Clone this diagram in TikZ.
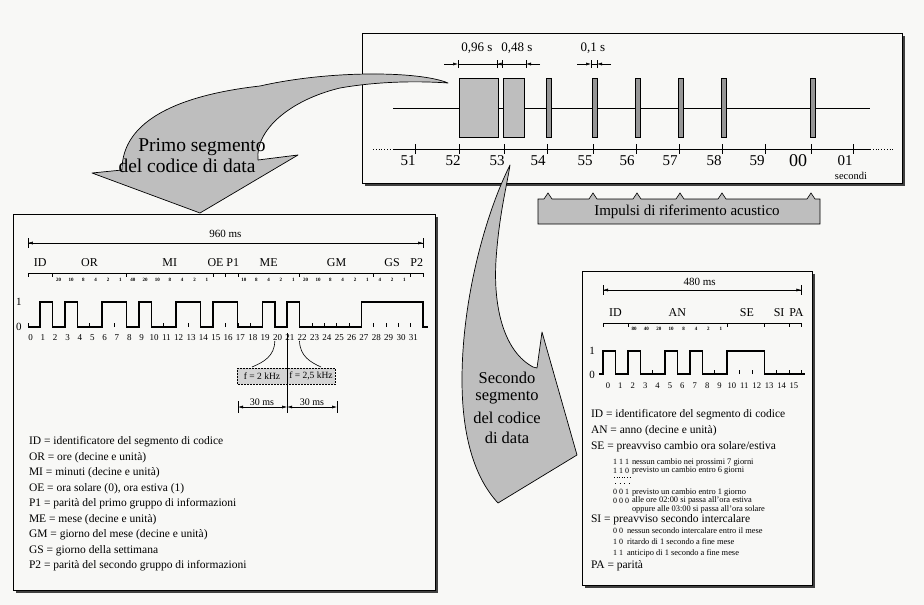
\documentclass[tikz,border=0pt]{standalone}
\usepackage{fontspec}
\setmainfont{Liberation Serif}
\usetikzlibrary{arrows.meta}
\definecolor{bgc}{RGB}{248,248,246}
\definecolor{hatch}{RGB}{190,190,190}
\definecolor{hatchdk}{RGB}{150,150,150}
\definecolor{fboxc}{RGB}{212,212,212}
\newcommand{\myfs}[1]{\fontsize{#1}{#1}\selectfont}
\begin{document}
\begin{tikzpicture}[x=1pt,y=-1pt,
  txt/.style={inner sep=0pt,outer sep=0pt},
  ax/.style={txt,font=\myfs{15}},
  fld/.style={txt,font=\myfs{12}},
  bitl/.style={txt,font=\myfs{9}},
  wt/.style={txt,font=\myfs{5}\bfseries},
  lvl/.style={txt,font=\myfs{11}},
  leg/.style={txt,anchor=west,font=\myfs{11.5}},
  subc/.style={txt,anchor=west,font=\myfs{8}},
  subt/.style={txt,anchor=west,font=\myfs{8.4}},
  tip/.style={-{Latex[length=5pt,width=3pt]},line width=0.5pt},
  pulse/.style={line width=1.4pt,line join=miter},
  panel/.style={draw,line width=0.8pt,fill=bgc},
  pshadow/.style={fill=black!75},
  bigarrow/.style={fill=hatch,draw,line width=0.7pt,line join=round}]
\fill[bgc] (0,0) rectangle (924,605);
\useasboundingbox (0,0) rectangle (924,605);

% ================= top panel =================
\fill[pshadow] (364.5,35.5) rectangle (904.5,185.5);
\draw[panel] (362,33) rectangle (902,183);
\draw[line width=0.6pt] (393,108) -- (870,108);
\draw[fill=hatch,line width=0.6pt] (459,78) rectangle (498,137);
\draw[fill=hatch,line width=0.6pt] (503,78) rectangle (524,137);
\foreach \x in {547,593,636,679,722,811}
  \draw[fill=hatchdk,line width=0.6pt] (\x-1,78) rectangle (\x+4.5,137);
\draw[line width=0.7pt] (393,149) -- (870,149);
\draw[dotted,line width=0.8pt] (373,149) -- (393,149);
\draw[dotted,line width=0.8pt] (870,149) -- (893,149);
\foreach \x/\l/\lx in {415/51/408,459/52/453,504/53/497,547/54/538,593/55/585,636/56/627,679/57/670,722/58/714,765/59/757,853/01/845}{
  \draw[line width=0.7pt] (\x,144) -- (\x,154);
  \node[ax] (sec\l) at (\lx,161) {\l};
}
\draw[line width=0.7pt] (811,144) -- (811,154);
\node[txt,font=\myfs{18}] (sec00) at (798,161) {00};
\node[txt,font=\myfs{10.5}] (secondi) at (851,176) {secondi};
% time dimensions
\node[txt,font=\myfs{13}] (d096) at (477,48) {0,96 s};
\node[txt,font=\myfs{13}] (d048) at (517,48) {0,48 s};
\node[txt,font=\myfs{13}] (d01) at (593,48) {0,1 s};
\draw[line width=0.5pt] (458,64) -- (526,64);
\draw[tip] (444,64) -- (458,64);
\draw[tip] (540,64) -- (526,64);
\draw[-{Latex[length=4pt,width=3pt]},line width=0.5pt] (502,64) -- (497.5,64);
\foreach \x in {458,497,502,526} \draw[line width=0.6pt] (\x,60) -- (\x,68);
\draw[line width=0.5pt] (591,64) -- (597,64);
\draw[tip] (577,64) -- (591,64);
\draw[tip] (611,64) -- (597,64);
\foreach \x in {591,597} \draw[line width=0.6pt] (\x,60) -- (\x,68);

% Impulsi box
\draw[fill=hatch,line width=0.6pt] (538,224) -- (538,199)
  -- (544,199) -- (548,193) -- (552,199)
  -- (589,199) -- (593,193) -- (597,199)
  -- (633,199) -- (637,193) -- (641,199)
  -- (676,199) -- (680,193) -- (684,199)
  -- (718,199) -- (722,193) -- (726,199)
  -- (807,199) -- (811,193) -- (815,199)
  -- (820,199) -- (820,224) -- cycle;
\node[txt,font=\myfs{15}] (impulsi) at (687,212) {Impulsi di riferimento acustico};

% ================= left panel =================
\fill[pshadow] (15.5,216.5) rectangle (437.5,592.5);
\draw[panel] (13,214) rectangle (435,590);
\begin{scope}[shift={(27.8pt,0pt)},x=12.35pt]
  \draw[line width=0.5pt] (0,243) -- (32,243);
  \draw[tip] (3,243) -- (0,243);
  \draw[tip] (29,243) -- (32,243);
  \draw[line width=0.6pt] (0,238) -- (0,248);
  \draw[line width=0.6pt] (32,238) -- (32,248);
  \node[txt,font=\myfs{11}] (ms960) at (16,234) {960 ms};
  \foreach \p/\l in {1/ID,5/OR,11.5/MI,15.2/OE,16.6/P1,19.5/ME,25/GM,29.5/GS,31.5/P2}
    \node[fld] (lf\l) at (\p,263) {\l};
  \draw[line width=0.5pt] (0,273) -- (32,273);
  \foreach \b in {0,2,8,15,16,17,22,28,31,32} \draw[line width=0.5pt] (\b,273) -- (\b,277);
  \foreach \b/\w in {2/20,3/10,4/8,5/4,6/2,7/1,8/40,9/20,10/10,11/8,12/4,13/2,14/1,17/10,18/8,19/4,20/2,21/1,22/20,23/10,24/8,25/4,26/2,27/1,28/4,29/2,30/1}
    \node[wt] (lw\b) at (\b+0.5,279.5) {\w};
  \foreach \i in {0,...,32} \draw[line width=0.5pt] (\i,327) -- (\i,322.5);
  \draw[pulse] (0,327) -- (1,327) -- (1,302) -- (2,302) -- (2,327) -- (3,327) -- (3,302) -- (4,302) -- (4,327)
    -- (6,327) -- (6,302) -- (8,302) -- (8,327) -- (9,327) -- (9,302) -- (10,302) -- (10,327)
    -- (12,327) -- (12,302) -- (14,302) -- (14,327) -- (15,327) -- (15,302) -- (17,302) -- (17,327)
    -- (19,327) -- (19,302) -- (20,302) -- (20,327) -- (21,327) -- (21,302) -- (22,302) -- (22,327)
    -- (27,327) -- (27,302) -- (32,302) -- (32,327) -- (32.4,327);
  \foreach \i in {0,...,31} \node[bitl] (lb\i) at (\i+0.22,338) {\i};
\end{scope}
\node[lvl] (l1) at (19,302) {1};
\node[lvl] (l0) at (19,327) {0};
% frequency boxes
\draw[fill=fboxc,line width=0.5pt,densely dotted] (237,368) rectangle (335,384);
\node[txt,font=\myfs{9.5}] (f2) at (262,376) {f = 2 kHz};
\node[txt,font=\myfs{9.5}] (f25) at (311,376) {f = 2,5 kHz};
\draw[line width=0.6pt] (274.8,341) .. controls (274.5,356) and (264,362) .. (252,367);
\draw[line width=0.6pt] (299.5,341) .. controls (300,356) and (310,362) .. (321,367);
\draw[line width=0.6pt] (287.15,333) -- (287.15,413);
\draw[line width=0.6pt] (238,401) -- (238,413);
\draw[line width=0.6pt] (337,401) -- (337,413);
\draw[{Latex[length=5pt,width=3pt]}-{Latex[length=5pt,width=3pt]},line width=0.5pt] (238,407) -- (287.15,407);
\draw[{Latex[length=5pt,width=3pt]}-{Latex[length=5pt,width=3pt]},line width=0.5pt] (287.15,407) -- (337,407);
\node[txt,font=\myfs{10},fill=bgc,inner sep=0.5pt] (ms30a) at (262,402) {30 ms};
\node[txt,font=\myfs{10},fill=bgc,inner sep=0.5pt] (ms30b) at (312,402) {30 ms};
% legend left
\foreach \k/\t in {0/{ID = identificatore del segmento di codice},
  1/{OR = ore (decine e unità)},
  2/{MI = minuti (decine e unità)},
  3/{OE = ora solare (0), ora estiva (1)},
  4/{P1 = parità del primo gruppo di informazioni},
  5/{ME = mese (decine e unità)},
  6/{GM = giorno del mese (decine e unità)},
  7/{GS = giorno della settimana},
  8/{P2 = parità del secondo gruppo di informazioni}}
  \node[leg] (ll\k) at (29,{442+15.5*\k}) {\t};

% ================= right panel =================
\fill[pshadow] (584.5,273.5) rectangle (814.5,587.5);
\draw[panel] (582,271) rectangle (812,585);
\begin{scope}[shift={(603pt,0pt)},x=12.4pt]
  \draw[line width=0.5pt] (0,290) -- (16,290);
  \draw[tip] (1.6,290) -- (0,290);
  \draw[tip] (14.4,290) -- (16,290);
  \draw[line width=0.6pt] (0,285) -- (0,295);
  \draw[line width=0.6pt] (16,285) -- (16,295);
  \node[txt,font=\myfs{11}] (ms480) at (7.8,282) {480 ms};
  \foreach \p/\l in {1/ID,6/AN,11.6/SE,14.2/SI,15.6/PA}
    \node[fld] (rf\l) at (\p,313) {\l};
  \draw[line width=0.5pt] (0,323) -- (16,323);
  \foreach \b in {0,2,10,13,15,16} \draw[line width=0.5pt] (\b,323) -- (\b,327);
  \foreach \b/\w in {2/80,3/40,4/20,5/10,6/8,7/4,8/2,9/1}
    \node[wt] (rw\b) at (\b+0.5,329) {\w};
  \foreach \i in {0,...,16} \draw[line width=0.5pt] (\i,374) -- (\i,369.5);
  \draw[pulse] (-0.32,374) -- (0,374) -- (0,351) -- (1,351) -- (1,374) -- (2,374) -- (2,351) -- (3,351) -- (3,374)
    -- (5,374) -- (5,351) -- (6,351) -- (6,374) -- (7,374) -- (7,351) -- (8,351) -- (8,374)
    -- (10,374) -- (10,351) -- (13,351) -- (13,374) -- (16.3,374);
  \foreach \i in {0,...,15} \node[bitl,font=\myfs{8.6}] (rb\i) at (\i+0.4,386) {\i};
\end{scope}
\node[lvl] (r1) at (592,351) {1};
\node[lvl] (r0) at (592,375) {0};
% legend right
\node[leg] (rl1) at (591,415) {ID = identificatore del segmento di codice};
\node[leg] (rl2) at (591,431) {AN = anno (decine e unità)};
\node[leg] (rl3) at (591,447) {SE = preavviso cambio ora solare/estiva};
\node[subc] (c111) at (613,462) {1 1 1};
\node[subt] (t111) at (632,462) {nessun cambio nei prossimi 7 giorni};
\node[subc] (c110) at (613,470.5) {1 1 0};
\node[subt] (t110) at (632,470.5) {previsto un cambio entro 6 giorni};
\draw[dotted,line width=0.6pt] (614,477.5) -- (630,477.5);
\draw[line width=0.6pt,dash pattern=on 0.6pt off 4pt] (615,483) -- (630,483);
\node[subc] (c001) at (613,492) {0 0 1};
\node[subt] (t001) at (632,492) {previsto un cambio entro 1 giorno};
\node[subc] (c000) at (613,500.5) {0 0 0};
\node[subt] (t000) at (632,500.5) {alle ore 02:00 si passa all'ora estiva};
\node[subt] (t000b) at (632,509) {oppure alle 03:00 si passa all'ora solare};
\node[leg] (rl4) at (591,520) {SI = preavviso secondo intercalare};
\node[subc] (c00) at (613,531) {0 0};
\node[subt] (t00) at (627,531) {nessun secondo intercalare entro il mese};
\node[subc] (c10) at (613,542) {1 0};
\node[subt] (t10) at (627,542) {ritardo di 1 secondo a fine mese};
\node[subc] (c11) at (613,553) {1 1};
\node[subt] (t11) at (627,553) {anticipo di 1 secondo a fine mese};
\node[leg] (rl5) at (591,566) {PA = parità};

% ================= big arrows =================
\draw[bigarrow] (448,83) .. controls (420,71) and (330,70) .. (260,86)
  .. controls (180,95) and (122,120) .. (122,170) -- (92,173) -- (200,213) -- (298,155) -- (258,160)
  .. controls (255,130) and (290,100) .. (340,88)
  .. controls (380,81) and (420,81) .. (448,83) -- cycle;
\node[txt,font=\myfs{19.5}] (prim1) at (202,147) {Primo segmento};
\node[txt,font=\myfs{19.5}] (prim2) at (187,166) {del codice di data};

\draw[bigarrow] (510,165) .. controls (485,215) and (462,300) .. (462,380)
  .. controls (462,430) and (472,475) .. (498,503) -- (577,455) -- (542,332) -- (537,368) -- (533,367)
  .. controls (505,352) and (493,310) .. (496,260)
  .. controls (499,215) and (507,185) .. (510,165) -- cycle;
\node[txt,font=\myfs{16.5}] (sec1) at (507,378) {Secondo};
\node[txt,font=\myfs{16.5}] (sec2) at (507,398) {segmento};
\node[txt,font=\myfs{16.5}] (sec3) at (507,418) {del codice};
\node[txt,font=\myfs{16.5}] (sec4) at (507,438) {di data};
\end{tikzpicture}
\end{document}
